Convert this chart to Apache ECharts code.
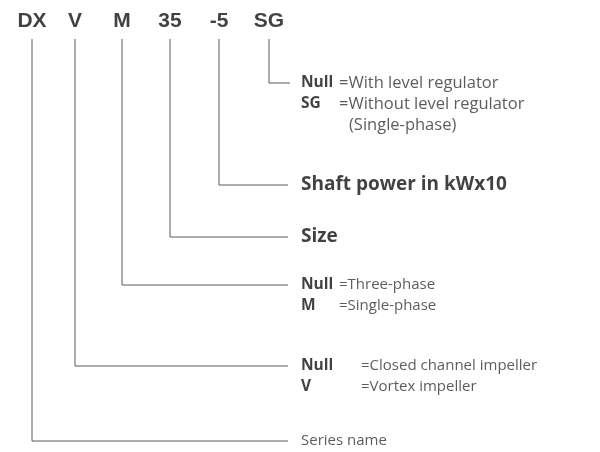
<!DOCTYPE html>
<html><head><meta charset="utf-8">
<script src="https://cdn.jsdelivr.net/npm/echarts@6/dist/echarts.min.js"></script>
<style>html,body{margin:0;padding:0;background:#fff}#c{width:600px;height:452px}</style>
</head><body><div id="c"></div>
<script>
// ---- data ----
var codes = ['DX', 'V', 'M', '35', '-5', 'SG'];
var meanings = [
  [['', 'Series name']],
  [['Null', 'Closed channel impeller'], ['V', 'Vortex impeller']],
  [['Null', 'Three-phase'], ['M', 'Single-phase']],
  [['Shaft', 'Size']],
  [['Shaft', 'Shaft power in kWx10']],
  [['Null', 'With level regulator'], ['SG', 'Without level regulator'], ['', '(Single-phase)']]
];
// ---- layout (positions in pixel-like axis units) ----
var codeX = [32, 75, 122, 170, 219, 269];
var branchY = [441, 366, 285, 237, 185, 83];
var lineEndX = [288, 288, 288, 288, 288, 290];
var eqX = [null, 361, 339, null, null, 339];
var descSize = [15, 15, 15, 15, 15, 16.5];
var headerY = 21, stemTop = 39, textX = 301, rowGap = 21;

var series = [];
codes.forEach(function (c, i) {
  series.push({
    type: 'line', silent: true, symbol: 'none',
    lineStyle: { color: '#5a5a5a', width: 1 },
    data: [[codeX[i], stemTop], [codeX[i], branchY[i]], [lineEndX[i], branchY[i]]]
  });
});
// header
series.push({
  type: 'scatter', symbolSize: 0, silent: true,
  data: codes.map(function (c, i) { return { value: [codeX[i], headerY], name: c }; }),
  label: { show: true, position: [0, 0], align: 'center', verticalAlign: 'middle',
    formatter: '{b}', fontFamily: 'Liberation Sans', fontWeight: 'bold', fontSize: 21, color: '#111' }
});
var keyPts = [], descPts = [], boldPts = [];
meanings.forEach(function (rows, i) {
  rows.forEach(function (r, j) {
    var y = branchY[i] + j * rowGap;
    if (eqX[i] === null) {
      if (r[0] === 'Shaft') boldPts.push({ value: [textX, y], name: r[1] });
      else descPts.push({ value: [textX, y], name: r[1], label: { fontSize: descSize[i] } });
    } else {
      if (r[0]) keyPts.push({ value: [textX, y], name: r[0] });
      descPts.push({ value: [eqX[i] + (r[0] ? 0 : 10), y], name: (r[0] ? '=' : '') + r[1],
        label: { fontSize: descSize[i] } });
    }
  });
});
var boldLabel = { show: true, position: [0, 0], align: 'left', verticalAlign: 'middle',
  formatter: '{b}', fontFamily: 'Open Sans', fontWeight: 'bold', fontSize: 15.5, color: '#111' };
series.push({ type: 'scatter', symbolSize: 0, silent: true, data: keyPts, label: boldLabel });
series.push({ type: 'scatter', symbolSize: 0, silent: true, data: boldPts,
  label: Object.assign({}, boldLabel, { fontSize: 19 }) });
series.push({ type: 'scatter', symbolSize: 0, silent: true, data: descPts,
  label: { show: true, position: [0, 0], align: 'left', verticalAlign: 'middle',
    formatter: '{b}', fontFamily: 'Open Sans', fontWeight: 'normal', fontSize: 15, color: '#333' } });

var chart = echarts.init(document.getElementById('c'));
chart.setOption({
  animation: false,
  grid: { left: 0, right: 0, top: 0, bottom: 0 },
  xAxis: { type: 'value', min: 0, max: 600, show: false },
  yAxis: { type: 'value', min: 0, max: 452, inverse: true, show: false },
  series: series
});
</script></body></html>
